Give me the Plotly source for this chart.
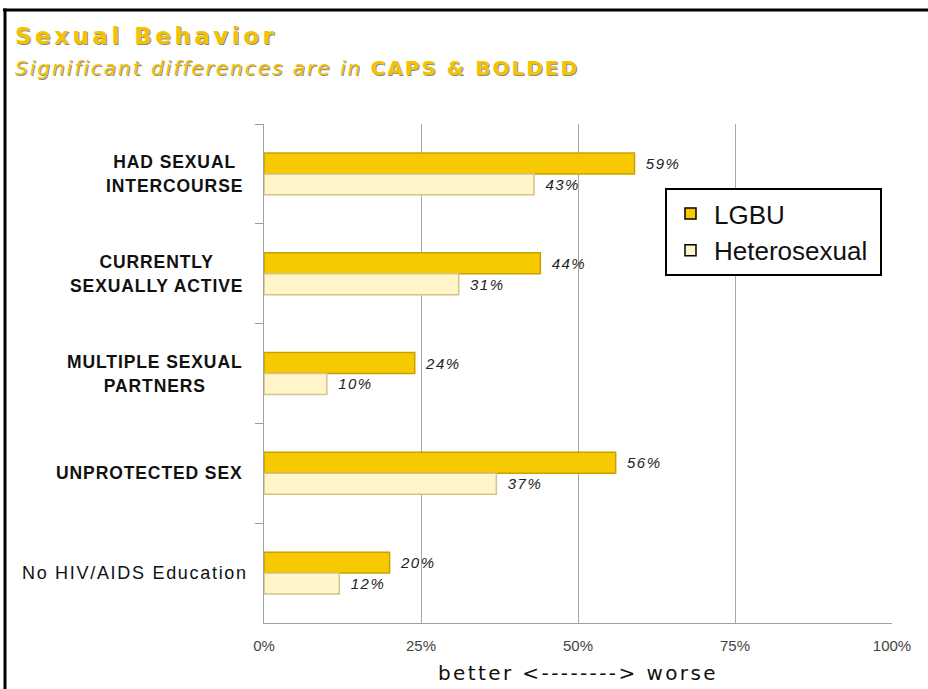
import plotly.graph_objects as go

# ---- data ----
categories = ["HAD SEXUAL\nINTERCOURSE", "CURRENTLY\nSEXUALLY ACTIVE", "MULTIPLE SEXUAL\nPARTNERS",
              "UNPROTECTED SEX", "No HIV/AIDS Education"]
significant = [True, True, True, True, False]
lgbu = [59, 44, 24, 56, 20]
hetero = [43, 31, 10, 37, 12]
x_ticks = [0, 25, 50, 75, 100]
x_tick_labels = ["0%", "25%", "50%", "75%", "100%"]
series_names = ["LGBU", "Heterosexual"]
x_title = "better <--------> worse"
title = "Sexual Behavior"
subtitle_plain = "Significant differences are in "
subtitle_bold = "CAPS & BOLDED"

W, H = 928, 689
L, R, T, B = 264, 36, 124, 66
PW, PH = W - L - R, H - T - B


def px_x(px):
    return (px - L) / PW


def px_y(py):
    return (H - B - py) / PH


def esc(s):
    return s.replace("&", "&amp;").replace("<", "&lt;").replace(">", "&gt;")


GOLD = "#F7C900"
GOLD_LINE = "#C9A200"
CREAM = "#FFF5C8"
CREAM_LINE = "#D6C386"
SANS = "Liberation Sans, Arial, sans-serif"

fig = go.Figure()
label_font = dict(family=SANS, size=15, color="#222222", style="italic")
bar_tmpl = "\u00a0\u00a0<span style='letter-spacing:1.5px'>%{x}%</span>"
fig.add_trace(go.Bar(
    y=categories, x=lgbu, orientation="h", name=series_names[0], showlegend=False,
    marker=dict(color=GOLD, line=dict(color=GOLD_LINE, width=1.5)),
    texttemplate=bar_tmpl, textposition="outside", textfont=label_font, cliponaxis=False))
fig.add_trace(go.Bar(
    y=categories, x=hetero, orientation="h", name=series_names[1], showlegend=False,
    marker=dict(color=CREAM, line=dict(color=CREAM_LINE, width=1.5)),
    texttemplate=bar_tmpl, textposition="outside", textfont=label_font, cliponaxis=False))
# legend entries
for nm, col in zip(series_names, [GOLD, CREAM]):
    fig.add_trace(go.Scatter(x=[None], y=[None], mode="markers", name=nm + "\u00a0",
                             marker=dict(symbol="square", size=11, color=col,
                                         line=dict(color="black", width=1.5))))

annotations = []
# category labels (multi-line, centred lines, 24px line pitch)
for cat, sig in zip(categories, significant):
    lines = [esc(s) for s in cat.split("\n")]
    if sig:
        inner = "<br>".join("<b><span style='font-size:17.5px;letter-spacing:0.9px'>%s</span></b>" % s
                            for s in lines)
        xs = -19
    else:
        inner = "<br>".join("<span style='font-size:18px;letter-spacing:1.7px'>%s</span>" % s for s in lines)
        xs = -14
    annotations.append(dict(
        x=0, xref="paper", y=cat, yref="y", text=inner, showarrow=False, align="center",
        xanchor="right", yanchor="middle", xshift=xs,
        font=dict(family=SANS, size=18.5, color="#111111")))

# titles (with shadow)
title_txt = "<b><span style='letter-spacing:3.5px'>%s</span></b>" % esc(title)
sub_txt = ("<i><span style='letter-spacing:2px'>%s</span></i>"
           "<b><span style='letter-spacing:2px'>%s</span></b>") % (esc(subtitle_plain), esc(subtitle_bold))
for txt, cy, size in [(title_txt, 36, 23), (sub_txt, 68, 20)]:
    for color, dx, dy in [("#8a8a8a", 1, -1), ("#F4C300", 0, 0)]:
        annotations.append(dict(
            x=px_x(13), xref="paper", y=px_y(cy), yref="paper", text=txt, showarrow=False,
            xanchor="left", yanchor="middle", xshift=dx, yshift=dy,
            font=dict(family="DejaVu Sans, Liberation Sans, Arial", size=size, color=color)))

# x axis title
annotations.append(dict(
    x=0.5, xref="paper", y=px_y(673), yref="paper", showarrow=False, xanchor="center", yanchor="middle",
    text="<span style='letter-spacing:2.4px'>%s</span>" % esc(x_title),
    font=dict(family="DejaVu Sans, Arial", size=20, color="#111111")))

shapes = [
    dict(type="line", xref="paper", yref="paper", x0=px_x(3), x1=px_x(W + 5), y0=px_y(10), y1=px_y(10),
         line=dict(color="black", width=3)),
    dict(type="line", xref="paper", yref="paper", x0=px_x(5), x1=px_x(5), y0=px_y(8.5), y1=px_y(H + 5),
         line=dict(color="black", width=3)),
]

fig.update_layout(
    width=W, height=H,
    margin=dict(l=L, r=R, t=T, b=B),
    paper_bgcolor="white", plot_bgcolor="white",
    barmode="group", bargap=0.58, bargroupgap=0.0,
    font=dict(family=SANS),
    xaxis=dict(range=[0, 100], tickvals=x_ticks, ticktext=x_tick_labels,
               showgrid=True, gridcolor="#A8A8A8", gridwidth=1,
               showline=True, linecolor="#A0A0A0", linewidth=1,
               ticks="", ticklabelstandoff=9,
               tickfont=dict(family="Liberation Sans Narrow, Liberation Sans, Arial", size=15, color="#444444"),
               zeroline=False, fixedrange=True),
    yaxis=dict(autorange="reversed", showticklabels=False, tickson="boundaries",
               ticks="outside", ticklen=8, tickcolor="#A0A0A0",
               showline=True, linecolor="#A0A0A0", linewidth=1, showgrid=False, fixedrange=True),
    legend=dict(x=px_x(665), y=px_y(188), xanchor="left", yanchor="top",
                bgcolor="white", bordercolor="black", borderwidth=2,
                font=dict(family=SANS, size=26, color="#111111"),
                itemwidth=37, tracegroupgap=0),
    annotations=annotations, shapes=shapes,
    showlegend=True,
)

fig.write_html("out.html", config={"displayModeBar": False},
               post_script="document.body.style.margin='0';document.body.style.overflow='hidden';")
